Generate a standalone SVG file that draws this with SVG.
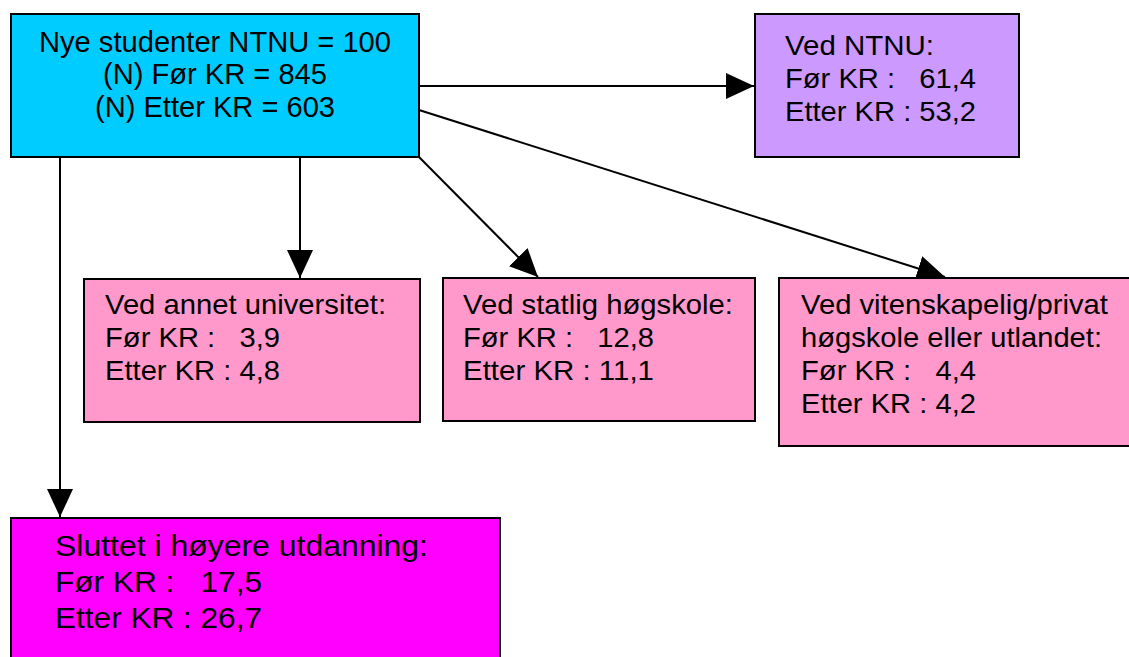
<svg xmlns="http://www.w3.org/2000/svg" width="1129" height="657" viewBox="0 0 1129 657">
<style>
.box{stroke:#000;stroke-width:2}
.t{font-family:"Liberation Sans",Arial,sans-serif;fill:#000}
.m{font-size:29px}
.s{font-size:28px}
.b{font-size:30px}
.c{fill:none;stroke:#000;stroke-width:2}
</style>
<defs>
<marker id="ah" markerUnits="userSpaceOnUse" markerWidth="30" markerHeight="28" refX="28" refY="13" orient="auto">
<path d="M0,0 L28,13 L0,26 z" fill="#000"/>
</marker>
</defs>
<rect width="1129" height="657" fill="#fff"/>
<g id="connectors">
<line class="c" x1="419" y1="86" x2="754" y2="86" marker-end="url(#ah)"/>
<line class="c" x1="419" y1="110" x2="945" y2="277" marker-end="url(#ah)"/>
<line class="c" x1="419" y1="157" x2="538" y2="277" marker-end="url(#ah)"/>
<line class="c" x1="300" y1="157" x2="300" y2="278" marker-end="url(#ah)"/>
<line class="c" x1="60" y1="157" x2="60" y2="517" marker-end="url(#ah)"/>
</g>
<g id="main">
<rect class="box" x="11" y="14" width="408" height="143" fill="#00CCFF"/>
<text class="t m" x="215" y="52" text-anchor="middle" textLength="352" lengthAdjust="spacingAndGlyphs">Nye studenter NTNU = 100</text>
<text class="t m" x="215" y="84" text-anchor="middle" textLength="224" lengthAdjust="spacingAndGlyphs">(N) Før KR = 845</text>
<text class="t m" x="215" y="117" text-anchor="middle" textLength="240" lengthAdjust="spacingAndGlyphs">(N) Etter KR = 603</text>
</g>
<g id="ntnu">
<rect class="box" x="755" y="14" width="264" height="143" fill="#CC99FF"/>
<text class="t s" x="785" y="55" textLength="149" lengthAdjust="spacingAndGlyphs">Ved NTNU:</text>
<text class="t s" x="785" y="88" xml:space="preserve" textLength="191" lengthAdjust="spacingAndGlyphs">Før KR :   61,4</text>
<text class="t s" x="785" y="121" textLength="191" lengthAdjust="spacingAndGlyphs">Etter KR : 53,2</text>
</g>
<g id="annet">
<rect class="box" x="84" y="279" width="336" height="143" fill="#FF99CC"/>
<text class="t s" x="105" y="314" textLength="281" lengthAdjust="spacingAndGlyphs">Ved annet universitet:</text>
<text class="t s" x="105" y="347" xml:space="preserve" textLength="175" lengthAdjust="spacingAndGlyphs">Før KR :   3,9</text>
<text class="t s" x="105" y="380" textLength="175" lengthAdjust="spacingAndGlyphs">Etter KR : 4,8</text>
</g>
<g id="statlig">
<rect class="box" x="443" y="278" width="312" height="143" fill="#FF99CC"/>
<text class="t s" x="463" y="314" textLength="270" lengthAdjust="spacingAndGlyphs">Ved statlig høgskole:</text>
<text class="t s" x="463" y="347" xml:space="preserve" textLength="191" lengthAdjust="spacingAndGlyphs">Før KR :   12,8</text>
<text class="t s" x="463" y="380" textLength="191" lengthAdjust="spacingAndGlyphs">Etter KR : 11,1</text>
</g>
<g id="privat">
<rect class="box" x="779" y="278" width="360" height="168" fill="#FF99CC"/>
<text class="t s" x="801" y="314" textLength="307" lengthAdjust="spacingAndGlyphs">Ved vitenskapelig/privat</text>
<text class="t s" x="801" y="347" textLength="301" lengthAdjust="spacingAndGlyphs">høgskole eller utlandet:</text>
<text class="t s" x="801" y="380" xml:space="preserve" textLength="175" lengthAdjust="spacingAndGlyphs">Før KR :   4,4</text>
<text class="t s" x="801" y="413" textLength="175" lengthAdjust="spacingAndGlyphs">Etter KR : 4,2</text>
</g>
<g id="sluttet">
<rect class="box" x="11" y="518" width="489" height="150" fill="#FF00FF"/>
<text class="t b" x="55" y="556" textLength="373" lengthAdjust="spacingAndGlyphs">Sluttet i høyere utdanning:</text>
<text class="t b" x="55" y="592" xml:space="preserve" textLength="207" lengthAdjust="spacingAndGlyphs">Før KR :   17,5</text>
<text class="t b" x="55" y="628" textLength="207" lengthAdjust="spacingAndGlyphs">Etter KR : 26,7</text>
</g>
</svg>
